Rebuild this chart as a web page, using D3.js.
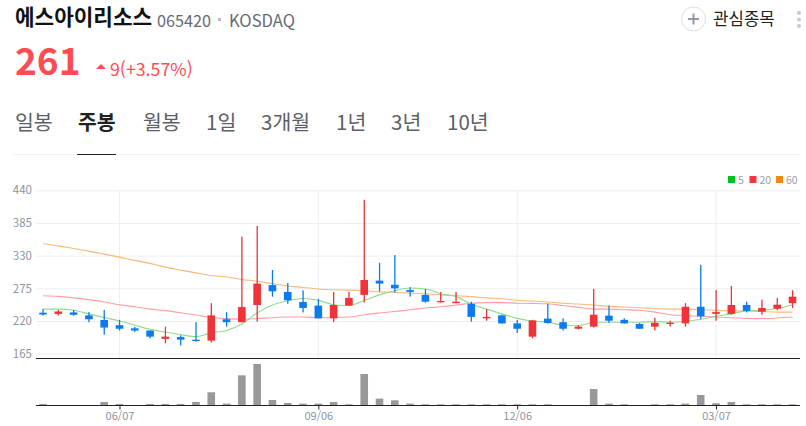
<!DOCTYPE html>
<html lang="ko">
  <head>
    <meta charset="UTF-8" />
    <title>에스아이리소스 :: 주봉</title>
    <script src="https://cdn.jsdelivr.net/npm/d3@7/dist/d3.min.js"></script>
    <style>
      html, body { margin: 0; padding: 0; background: #fff; }
      svg { display: block; }
      text { font-family: "Noto Sans CJK KR", "Noto Sans", sans-serif; }
    </style>
  </head>
  <body>
    <svg id="chart" width="806" height="426"></svg>
    <script>
      const opens = [234,232,234.5,229.5,221.7,213,207.7,204,190,193,188.6,187,223,218,247,280.5,269,252,246,224.5,246,264,288,281,272,264,252,250,249,224.5,229.5,216,193.7,224,218,207,210.5,229,222,215,210.5,216,216,244,232,232,247,235.7,240.7,250]
      const closes = [231,236,230.5,223,209,207,204,193.7,193.7,188.6,186.4,229.5,218,243.5,283,270,255,242,224.5,247,259,289,283,275,269,252.5,253.6,252.5,227,227,216,207,221,216.6,207,210.5,230.6,220.5,216,207,217,217,244,228,235,247,237,242,247.5,261]
      const highs = [240,238.5,238.5,235,238.5,222,210,204,210.5,196,218,250,235,362,380,306,284,271.5,257,269,269,424,318,331,277,274,269,269,252.5,240,230.6,221.7,222,249,224.5,213,274,246,224.5,216.6,225.6,220.5,250,314.6,272,279,252.5,256,259,272]
      const lows = [229,229.5,229,218,197,204,201.5,191,182.5,179,185,184,210.5,218,219,261,249,234.5,224.5,218,246,251,270,268,261,251,251,250,219,220.5,215.5,200,191,215.5,204,206,209,217,215.5,207,204,210.5,210.5,223,220.5,230.6,234.5,230.6,238,242]
      const volumes = [4,0,0,0,10,4,0,4,4,4,10,39,5,90,124,16,7,5,5,10,3,94,20,15,5,3,3,3,3,3,3,3,3,3,0,0,49,5,3,0,3,3,5,31,6,10,3,3,3,3]

      const ma5 = [240,240,238,232,226,220,213,206,201.5,197,193.7,200,204,215,233.5,247,254,258,254.7,247.5,246,254.7,264,271,275.5,274,266,261.5,248.5,240,232,224.5,220,218,213,212,218,218,218,218,219,218,219.5,223,228,232,237,238,241,247.5]
      const ma20 = [262.5,261.5,259,256,252,247.5,244,240,237.5,234,230,226,224,223,224,225.6,226.7,226.7,225.6,226,226.7,230.6,233.5,236,239,242,244,247,250,251,251,250,249.7,249,246,243,240,240,239,238,235,230.6,229,228,226.7,225.6,224.5,224,225,226.7]
      const ma60 = [350,346.5,342,337.6,332.6,327.5,322,317,310.7,305.7,301,296.7,294,290,287,282.7,279,276.5,273.8,272.6,272,271,269,268,267,266,264,262.6,261,259,257.5,255,253.6,252,250,248.6,247,244.6,243.5,242.4,241,240,240,239,238,237,236.8,236,235,235]

      const priceTicks = [165,220,275,330,385,440]
      const dateIdx = [5,18,31,44]
      const dateLabels = ['06/07','09/06','12/06','03/07']
      const tabs = ['일봉','주봉','월봉','1일','3개월','1년','3년','10년']
      const tabX = [15,78,143,206,261,336,391,447]
      const legendNames = ['5','20','60']
      const legendColors = ['#00c31f','#f8323e','#f78615']
      const legendX = [728,749.5,776]

      const RED = '#ef3338'
      const BLUE = '#0b7bef'
      const left = 36
      const right = 800
      const grey = '#8d95a1'

      const svg = d3.select('#chart')

      // header
      svg.append('text').attr('x', 15).attr('y', 25).attr('font-size', 21.3).attr('font-weight', 700).attr('fill', '#111').text('에스아이리소스')
      svg.append('text').attr('x', 157).attr('y', 27).attr('font-size', 16.2).attr('fill', '#666b73').text('065420')
      svg.append('rect').attr('x', 218).attr('y', 18).attr('width', 3).attr('height', 3).attr('fill', '#b9bdc4')
      svg.append('text').attr('x', 229).attr('y', 27).attr('font-size', 16.6).attr('fill', '#666b73').text('KOSDAQ')

      svg.append('text').attr('x', 15).attr('y', 75).attr('font-size', 37).attr('font-weight', 700).attr('fill', '#ff4c52').text('261')
      svg.append('path').attr('d', 'M96,69L101,64L106,69Z').attr('fill', '#ff4c52')
      svg.append('text').attr('x', 110).attr('y', 76).attr('font-size', 17.8).attr('fill', '#ff4c52').text('9(+3.57%)')

      // watch button
      svg.append('circle').attr('cx', 693.5).attr('cy', 19).attr('r', 12).attr('fill', '#fff').attr('stroke', '#d9dde3')
      svg.append('path').attr('d', 'M688,19H699M693.5,13.5V24.5').attr('stroke', '#8f99a8').attr('stroke-width', 2)
      svg.append('text').attr('x', 713).attr('y', 25).attr('font-size', 16.8).attr('fill', '#222').text('관심종목')
      svg.selectAll('circle.dot').data([13, 19.5, 26]).join('circle').attr('class', 'dot')
        .attr('cx', 799).attr('cy', (d) => d).attr('r', 2).attr('fill', '#c6cad1')

      // tabs
      svg.selectAll('text.tab').data(tabs).join('text').attr('class', 'tab')
        .attr('x', (d, i) => tabX[i]).attr('y', 129.5).attr('font-size', 20.5)
        .attr('font-weight', (d) => d == '주봉' ? 700 : 400)
        .attr('fill', (d) => d == '주봉' ? '#222' : '#5c6168')
        .text((d) => d)
      svg.append('line').attr('x1', 13).attr('x2', 801).attr('y1', 154.5).attr('y2', 154.5).attr('stroke', '#f1f2f3')
      svg.append('line').attr('x1', 77).attr('x2', 116).attr('y1', 154.5).attr('y2', 154.5).attr('stroke', '#222')

      // legend
      legendNames.forEach((name, i) => {
        svg.append('rect').attr('x', legendX[i]).attr('y', 176).attr('width', 7).attr('height', 7).attr('fill', legendColors[i])
        svg.append('text').attr('x', legendX[i] + 10).attr('y', 184).attr('font-size', 10.5).attr('fill', '#9aa0a8').text(name)
      })

      const x = d3.scaleLinear().domain([0, opens.length - 1]).range([43, 792.5])
      const y = d3.scaleLinear().domain([165, 440]).range([353.7, 190.3])
      const yVol = d3.scaleLinear().domain([0, d3.max(volumes)]).range([405.3, 364])
      const bodyW = 7.6

      // grid
      const yAxis = svg.append('g').attr('transform', `translate(${left},0)`)
        .call(d3.axisLeft(y).tickValues(priceTicks).tickSize(-(right - left)).tickPadding(4))
      yAxis.select('.domain').remove()
      yAxis.selectAll('line').attr('stroke', '#eeeeee').attr('stroke-width', 1)
      yAxis.selectAll('text').attr('font-size', 11.5).attr('fill', grey).style('font-family', '"Noto Sans CJK KR"')

      svg.append('g').selectAll('line').data(dateIdx).join('line')
        .attr('x1', (d) => x(d)).attr('x2', (d) => x(d))
        .attr('y1', y(440)).attr('y2', 358)
        .attr('stroke', '#eceef1')

      // moving averages under the candles
      const line = d3.line().x((d, i) => x(i)).y((d) => y(d)).curve(d3.curveMonotoneX)
      const maSeries = [[ma60, '#f9b877'], [ma20, '#ff9ea2'], [ma5, '#8fdd8c']]
      maSeries.forEach(([vals, col]) => {
        svg.append('path').datum(vals).attr('d', line).attr('fill', 'none').attr('stroke', col).attr('stroke-width', 1.1)
      })

      // candles
      const candles = svg.append('g').selectAll('g').data(opens).join('g')
        .attr('fill', (d, i) => closes[i] >= d ? RED : BLUE)
      candles.append('rect')
        .attr('x', (d, i) => x(i) - 0.6).attr('width', 1.3)
        .attr('y', (d, i) => y(highs[i]))
        .attr('height', (d, i) => y(lows[i]) - y(highs[i]))
      candles.append('rect')
        .attr('x', (d, i) => x(i) - bodyW / 2).attr('width', bodyW)
        .attr('y', (d, i) => y(Math.max(d, closes[i])))
        .attr('height', (d, i) => Math.max(1.2, Math.abs(y(d) - y(closes[i]))))

      // volume
      svg.append('g').selectAll('rect').data(volumes).join('rect')
        .attr('x', (d, i) => x(i) - bodyW / 2).attr('width', bodyW)
        .attr('y', (d) => yVol(d)).attr('height', (d) => yVol(0) - yVol(d))
        .attr('fill', '#999999')

      // frame lines and date axis
      svg.append('line').attr('x1', left).attr('x2', right).attr('y1', 358.5).attr('y2', 358.5).attr('stroke', '#222')
      const xAxis = svg.append('g').attr('transform', 'translate(0,405.5)')
        .call(d3.axisBottom(x).tickValues(dateIdx).tickFormat((d, i) => dateLabels[i]).tickSize(4).tickPadding(3))
      xAxis.select('.domain').attr('d', `M${left},0H${right}`).attr('stroke', '#222')
      xAxis.selectAll('line').attr('stroke', '#222')
      xAxis.selectAll('text').attr('font-size', 11).attr('fill', grey).style('font-family', '"Noto Sans CJK KR"')
    </script>
  </body>
</html>
